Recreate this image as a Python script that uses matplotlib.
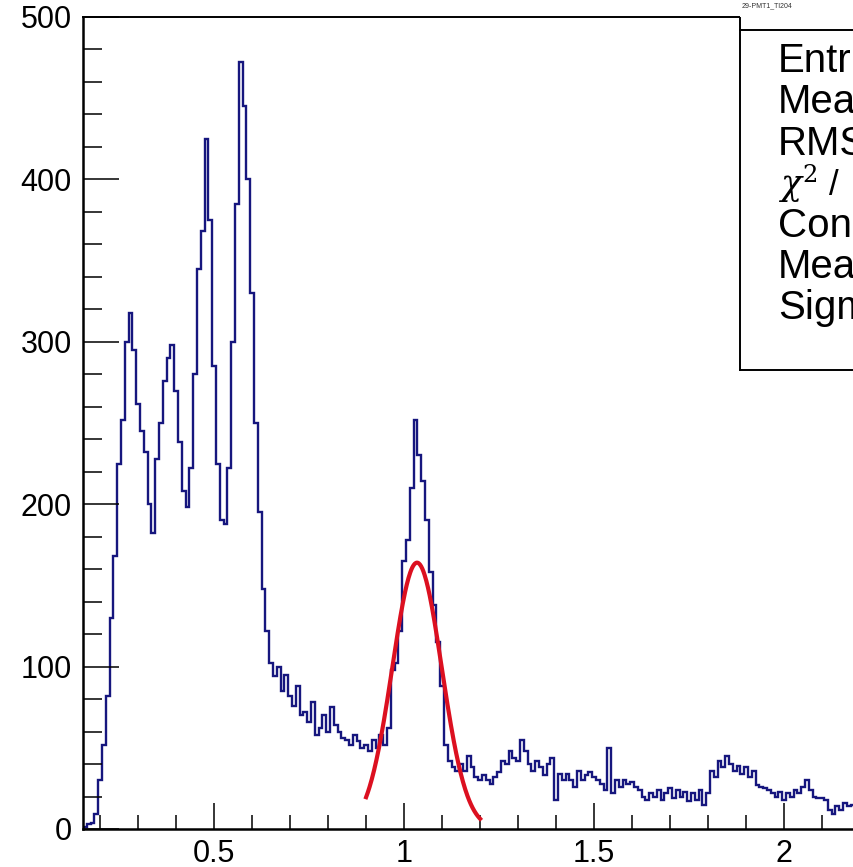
import matplotlib
matplotlib.use('Agg')
import matplotlib.pyplot as plt
import numpy as np
from matplotlib.ticker import MultipleLocator, FuncFormatter
from matplotlib.lines import Line2D
from matplotlib.patches import Rectangle

plt.rcParams['font.family'] = ['Liberation Sans', 'DejaVu Sans']
plt.rcParams['mathtext.fontset'] = 'dejavuserif'

# histogram: 0.01 wide bins starting at 0.155
bin_lo = 0.155
bin_w = 0.01
counts = [
    1, 3, 4, 9, 30, 52, 82, 130, 168, 225,            # 0.16 - 0.25
    252, 300, 318, 295, 262, 245, 232, 200, 182, 228,  # 0.26 - 0.35
    250, 276, 290, 298, 270, 238, 208, 198, 222, 280,  # 0.36 - 0.45
    345, 368, 425, 375, 285, 225, 190, 188, 222, 300,  # 0.46 - 0.55
    385, 472, 445, 400, 330, 250, 195, 148, 122, 102,  # 0.56 - 0.65
    94, 100, 85, 95, 82, 76, 88, 70, 72, 66,           # 0.66 - 0.75
    78, 58, 62, 70, 60, 75, 64, 60, 56, 55,            # 0.76 - 0.85
    52, 58, 54, 50, 52, 48, 55, 50, 58, 52,            # 0.86 - 0.95
    62, 98, 102, 122, 165, 178, 210, 252, 230, 214,    # 0.96 - 1.05
    190, 158, 138, 115, 88, 52, 42, 38, 36, 40,        # 1.06 - 1.15
    36, 45, 38, 32, 30, 33, 30, 28, 32, 35,            # 1.16 - 1.25
    42, 40, 48, 44, 42, 55, 48, 40, 36, 42,            # 1.26 - 1.35
    38, 33, 40, 44, 18, 34, 30, 34, 30, 26,            # 1.36 - 1.45
    36, 30, 33, 35, 32, 30, 28, 24, 50, 22,            # 1.46 - 1.55
    30, 26, 30, 28, 29, 26, 24, 20, 18, 22,            # 1.56 - 1.65
    20, 24, 18, 22, 25, 19, 24, 20, 23, 17,            # 1.66 - 1.75
    22, 18, 24, 15, 22, 36, 32, 42, 38, 45,            # 1.76 - 1.85
    40, 36, 39, 34, 38, 32, 36, 27, 26, 25,            # 1.86 - 1.95
    24, 22, 20, 23, 18, 22, 20, 24, 22, 26,            # 1.96 - 2.05
    30, 24, 20, 19, 19, 18, 12, 9, 14, 12,             # 2.06 - 2.15
    16, 14, 15, 13,                                    # 2.16 - 2.19
]
edges = bin_lo + bin_w * np.arange(len(counts) + 1)

# gaussian fit
fit_const = 164.0
fit_mean = 1.034
fit_sigma = 0.065
fit_lo, fit_hi = 0.9, 1.2

hist_name = '29-PMT1_Tl204'
stat_labels = ['Entries', 'Mean', 'RMS', r'$\chi^2$ /   ndf', 'Constant', 'Mean', 'Sigma']

W, H = 854, 867
fig = plt.figure(figsize=(W / 100, H / 100), dpi=100)

xmin, xmax = 0.155, 2.6
px_per_x = 380.0
ax = fig.add_axes([83 / W, 1 - 829 / H, (xmax - xmin) * px_per_x / W, (829 - 17) / H])

ax.stairs(counts, edges, color='#16167e', lw=1.7)
xf = np.linspace(fit_lo, fit_hi, 200)
ax.plot(xf, fit_const * np.exp(-0.5 * ((xf - fit_mean) / fit_sigma) ** 2),
        color='#dc1020', lw=3.0)

ax.set_xlim(xmin, xmax)
ax.set_ylim(0, 500)
ax.xaxis.set_major_locator(MultipleLocator(0.5))
ax.xaxis.set_minor_locator(MultipleLocator(0.1))
ax.yaxis.set_major_locator(MultipleLocator(100))
ax.yaxis.set_minor_locator(MultipleLocator(20))
ax.xaxis.set_major_formatter(FuncFormatter(lambda v, p: '%g' % v))
ax.tick_params(axis='x', which='major', direction='in', length=19, width=1.1, labelsize=22, pad=7)
ax.tick_params(axis='x', which='minor', direction='in', length=10, width=1.1)
ax.tick_params(axis='y', which='major', direction='in', length=26, width=1.1, labelsize=22, pad=8)
ax.tick_params(axis='y', which='minor', direction='in', length=14, width=1.1)
for s in ['left', 'bottom']:
    ax.spines[s].set_linewidth(1.8)
ax.spines['top'].set_linewidth(1.4)
ax.spines['right'].set_visible(False)

# stats box (cut by the right edge of the canvas)
bx, btop, bbot, bsep = 740, 12, 370, 30
fig.add_artist(Rectangle((bx / W, 1 - bbot / H), 1.0, (bbot - btop) / H,
                         transform=fig.transFigure, fc='white', ec='none', zorder=5))
for (x0, y0, x1, y1) in [(bx, 18, bx, bbot), (bx, bbot, W + 10, bbot), (bx, bsep, W + 10, bsep)]:
    fig.add_artist(Line2D([x0 / W, x1 / W], [1 - y0 / H, 1 - y1 / H], transform=fig.transFigure,
                          color='black', lw=1.4, zorder=6))
fig.text((bx + 2) / W, 1 - 6 / H, hist_name, fontsize=5, va='center', ha='left', color='#333333', zorder=7)
row_y = [60, 101, 143, 184, 225, 266, 307]
row_size = [29, 29, 29, 25, 29, 29, 29]
for lab, yy, fs in zip(stat_labels, row_y, row_size):
    fig.text(778 / W, 1 - (yy + 12) / H, lab, fontsize=fs, va='baseline', ha='left', zorder=7)

fig.savefig('out.png', dpi=100)
